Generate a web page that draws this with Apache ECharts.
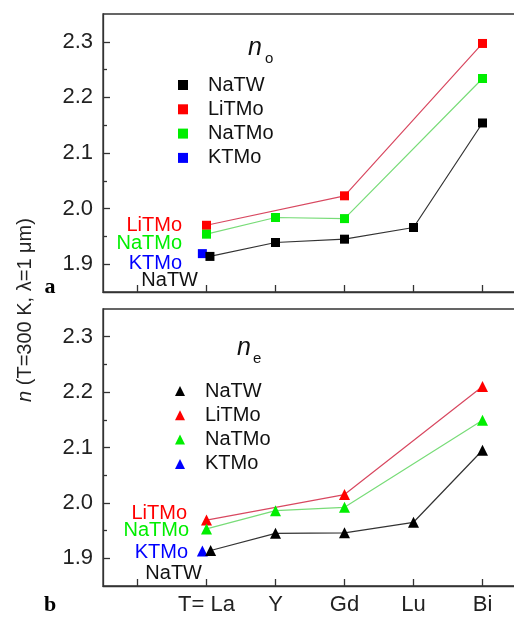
<!DOCTYPE html>
<html>
<head>
<meta charset="utf-8">
<script src="https://cdn.jsdelivr.net/npm/echarts@6/dist/echarts.min.js"></script>
<style>
  html, body { margin: 0; padding: 0; background: #fff; }
  #chart { width: 514px; height: 617px; }
</style>
</head>
<body>
<div id="chart"></div>
<script>
// host cations along x, index 0 is an empty slot
const hosts = ['', 'T= La', 'Y', 'Gd', 'Lu', 'Bi'];
const xTicks = [0, 1, 2, 3, 4, 5];
const xLabelTicks = [1, 2, 3, 4, 5];
const yMajor = [1.9, 2.0, 2.1, 2.2, 2.3];
const yMinor = [1.95, 2.05, 2.15, 2.25];

// panel a: n_o  [x, n]
const noNaTW = [[1.05, 1.914], [2, 1.939], [3, 1.945], [4, 1.966], [5, 2.154]];
const noLiTMo = [[1, 1.970], [3, 2.023], [5, 2.297]];
const noNaTMo = [[1, 1.954], [2, 1.984], [3, 1.982], [5, 2.234]];
const noKTMo = [[0.94, 1.919]];

// panel b: n_e
const neNaTW = [[1.06, 1.914], [2, 1.945], [3, 1.946], [4, 1.965], [5, 2.095]];
const neLiTMo = [[1, 1.969], [3, 2.015], [5, 2.210]];
const neNaTMo = [[1, 1.953], [2, 1.986], [3, 1.992], [5, 2.149]];
const neKTMo = [[0.94, 1.913]];

const names = ['NaTW', 'LiTMo', 'NaTMo', 'KTMo'];
const markColor = { NaTW: '#000000', LiTMo: '#ff0000', NaTMo: '#00ee00', KTMo: '#0000ff' };
const lineColor = { NaTW: '#333333', LiTMo: '#d84860', NaTMo: '#78dc78', KTMo: '#0000ff' };

const font = 'Liberation Sans, Arial, sans-serif';
const axisColor = '#333';

function xAxisFor(grid, labels) {
  return {
    type: 'value', gridIndex: grid, min: -0.5, max: 5.5,
    splitLine: { show: false },
    axisLine: { onZero: false, lineStyle: { color: axisColor, width: 1.3 } },
    axisTick: { customValues: xTicks, inside: true, length: 7, lineStyle: { color: axisColor, width: 1.3 } },
    axisLabel: {
      show: labels, customValues: xLabelTicks, margin: 8,
      fontSize: 22, fontFamily: font, color: '#222',
      formatter: v => hosts[Math.round(v)]
    }
  };
}

function yAxesFor(grid) {
  return [{
    type: 'value', gridIndex: grid, min: 1.85, max: 2.35, position: 'left',
    splitLine: { show: false },
    axisLine: { show: true, onZero: false, lineStyle: { color: axisColor, width: 1.3 } },
    axisTick: { customValues: yMajor, inside: true, length: 7, lineStyle: { color: axisColor, width: 1.3 } },
    axisLabel: { customValues: yMajor, margin: 10, fontSize: 22, fontFamily: font, color: '#222', formatter: v => v.toFixed(1) }
  }, {
    type: 'value', gridIndex: grid, min: 1.85, max: 2.35, position: 'left',
    splitLine: { show: false },
    axisLine: { show: false, onZero: false },
    axisTick: { customValues: yMinor, inside: true, length: 4, lineStyle: { color: axisColor, width: 1.3 } },
    axisLabel: { show: false }
  }];
}

function seriesFor(grid, data, symbol, size) {
  // drawn KTMo first so NaTW overlaps it, as in the figure
  const order = ['KTMo', 'LiTMo', 'NaTMo', 'NaTW'];
  return order.map(n => ({
    name: n, type: 'line', xAxisIndex: grid, yAxisIndex: grid * 2,
    data: data[n], symbol: symbol, symbolSize: size,
    itemStyle: { color: markColor[n] },
    lineStyle: { color: lineColor[n], width: 1.2 },
    emphasis: { disabled: true },
    animation: false
  }));
}

function legendFor(top, left, icon) {
  return {
    orient: 'vertical', left: left, top: top, icon: icon,
    itemWidth: 10, itemHeight: 10, itemGap: 4.3,
    data: names, selectedMode: false,
    textStyle: { fontSize: 20, fontFamily: font, color: '#111', lineHeight: 20, padding: [0, 0, 0, 15] }
  };
}

function sideLabel(text, right, y, color) {
  return { type: 'text', style: { text: text, x: right, y: y, align: 'right', verticalAlign: 'middle', fill: color, fontSize: 20, fontFamily: font } };
}

const chart = echarts.init(document.getElementById('chart'));
chart.setOption({
  backgroundColor: '#fff',
  animation: false,
  grid: [
    { left: 103, width: 414, top: 14, height: 278, outerBoundsMode: 'none', show: true, borderColor: axisColor, borderWidth: 1.3 },
    { left: 103, width: 414, top: 309, height: 277, outerBoundsMode: 'none', show: true, borderColor: axisColor, borderWidth: 1.3 }
  ],
  xAxis: [xAxisFor(0, false), xAxisFor(1, true)],
  yAxis: [...yAxesFor(0), ...yAxesFor(1)],
  legend: [legendFor(70, 173, 'rect'), legendFor(376, 170, 'triangle')],
  series: [
    ...seriesFor(0, { NaTW: noNaTW, LiTMo: noLiTMo, NaTMo: noNaTMo, KTMo: noKTMo }, 'rect', 9),
    ...seriesFor(1, { NaTW: neNaTW, LiTMo: neLiTMo, NaTMo: neNaTMo, KTMo: neKTMo }, 'triangle', 11)
  ],
  graphic: [
    // panel titles
    { type: 'text', style: { text: 'n', x: 248, y: 48, verticalAlign: 'middle', fill: '#111', fontSize: 25, fontStyle: 'italic', fontFamily: font } },
    { type: 'text', style: { text: 'o', x: 265, y: 59, verticalAlign: 'middle', fill: '#111', fontSize: 15, fontFamily: font } },
    { type: 'text', style: { text: 'n', x: 237, y: 348, verticalAlign: 'middle', fill: '#111', fontSize: 25, fontStyle: 'italic', fontFamily: font } },
    { type: 'text', style: { text: 'e', x: 253, y: 359, verticalAlign: 'middle', fill: '#111', fontSize: 15, fontFamily: font } },
    // labels left of La
    sideLabel('LiTMo', 182, 225, '#ff0000'),
    sideLabel('NaTMo', 182, 243, '#00ee00'),
    sideLabel('KTMo', 182, 263, '#0000ff'),
    sideLabel('NaTW', 198, 280, '#111'),
    sideLabel('LiTMo', 187, 513, '#ff0000'),
    sideLabel('NaTMo', 189, 530, '#00ee00'),
    sideLabel('KTMo', 188, 552, '#0000ff'),
    sideLabel('NaTW', 202, 573, '#111'),
    // panel letters
    { type: 'text', style: { text: 'a', x: 50, y: 287, align: 'center', verticalAlign: 'middle', fill: '#000', fontSize: 22, fontWeight: 'bold', fontFamily: 'Liberation Serif, Times New Roman, serif' } },
    { type: 'text', style: { text: 'b', x: 50, y: 605, align: 'center', verticalAlign: 'middle', fill: '#000', fontSize: 22, fontWeight: 'bold', fontFamily: 'Liberation Serif, Times New Roman, serif' } },
    // shared y axis title
    {
      type: 'text', x: 25, y: 310, rotation: Math.PI / 2,
      style: {
        text: '{i|n} (T=300 K, λ=1 μm)', align: 'center', verticalAlign: 'middle',
        fill: '#222', fontSize: 20, fontFamily: font,
        rich: { i: { fontStyle: 'italic', fontSize: 20, fontFamily: font, fill: '#222' } }
      }
    }
  ]
});
</script>
</body>
</html>
